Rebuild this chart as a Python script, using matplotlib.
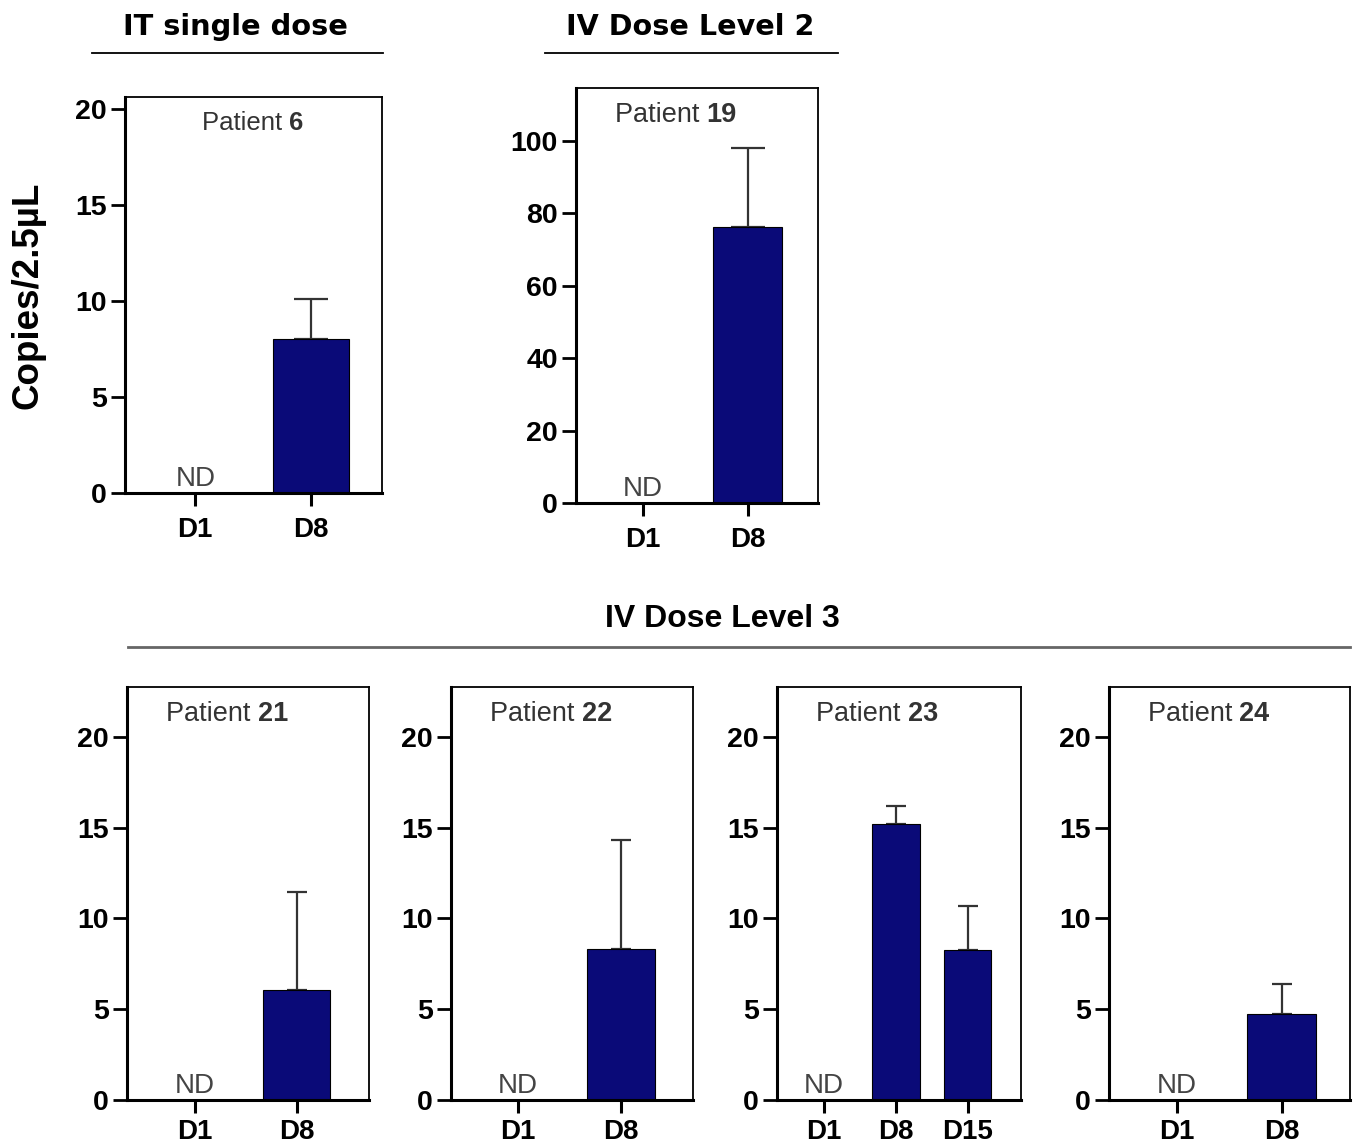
import numpy as np
import matplotlib
matplotlib.use('Agg')
import matplotlib.pyplot as plt
from matplotlib.lines import Line2D

plt.rcParams['font.family'] = ['Liberation Sans', 'DejaVu Sans']

# dados (ND = nao detectado -> nan)
days_2 = ['D1', 'D8']
days_3 = ['D1', 'D8', 'D15']

p6_mean = [np.nan, 8.0]
p6_err = [0, 2.1]
p19_mean = [np.nan, 76.2]
p19_err = [0, 21.9]
p21_mean = [np.nan, 6.05]
p21_err = [0, 5.4]
p22_mean = [np.nan, 8.3]
p22_err = [0, 6.0]
p23_mean = [np.nan, 15.2, 8.25]
p23_err = [0, 1.0, 2.45]
p24_mean = [np.nan, 4.75]
p24_err = [0, 1.65]

BAR = '#0a0a78'
W, H = 1358, 1144


def box(l, t, r, b):
    # pixels -> fracao da figura
    return [l / W, (H - b) / H, (r - l) / W, (b - t) / H]


def draw_panel(ax, days, mean, err, patient, ylim, yticks, xlim,
               capsize, pat_x, pat_size, xpad):
    x = np.arange(len(days))
    mean = np.array(mean, dtype=float)
    ax.bar(x, mean, width=0.66, color=BAR, edgecolor='black', linewidth=0.8,
           zorder=2)
    ax.errorbar(x, mean, yerr=[np.zeros(len(x)), err], fmt='none',
                ecolor='#333333', elinewidth=1.6, capsize=capsize,
                capthick=1.6, zorder=1)
    for xi, m in zip(x, mean):
        if np.isnan(m):
            ax.annotate('ND', (xi, 0), xytext=(0, 1), textcoords='offset points',
                        ha='center', va='bottom', fontsize=20, color='#444444')
    ax.set_xlim(*xlim)
    ax.set_ylim(*ylim)
    ax.set_yticks(yticks)
    ax.set_xticks(x)
    ax.set_xticklabels(days)
    for lab in ax.get_xticklabels() + ax.get_yticklabels():
        lab.set_fontweight('bold')
    ax.tick_params(axis='y', length=10, width=2, labelsize=20.5, pad=3)
    ax.tick_params(axis='x', length=9, width=2.2, labelsize=20, pad=xpad)
    ax.spines['left'].set_linewidth(2.2)
    ax.spines['bottom'].set_linewidth(2.2)
    ax.spines['top'].set_linewidth(1.3)
    ax.spines['right'].set_linewidth(1.3)
    t = ax.text(pat_x, 0.935, 'Patient ', transform=ax.transAxes,
                ha='left', va='center', fontsize=pat_size, color='#333333')
    ax.annotate(patient, xy=(1, 0), xycoords=t, va='bottom', ha='left',
                fontsize=pat_size, fontweight='bold', color='#333333')


fig = plt.figure(figsize=(W / 100, H / 100), dpi=100)

ax1 = fig.add_axes(box(125, 97, 382, 493))
draw_panel(ax1, days_2, p6_mean, p6_err, '6', (0, 20.6), [0, 5, 10, 15, 20],
           (-0.61, 1.62), 12, 0.30, 18.5, 8)
ax1.set_ylabel('Copies/2.5\u00b5L', fontsize=26.5, fontweight='bold')
ax1.yaxis.set_label_coords(-0.31, 0.5)

ax2 = fig.add_axes(box(576, 88, 818, 503))
draw_panel(ax2, days_2, p19_mean, p19_err, '19', (0, 114.6),
           [0, 20, 40, 60, 80, 100], (-0.64, 1.67), 12, 0.16, 19.5, 8)

bottom = [
    (127, 369, days_2, p21_mean, p21_err, '21', (-0.67, 1.71)),
    (451, 693, days_2, p22_mean, p22_err, '22', (-0.65, 1.70)),
    (777, 1021, days_3, p23_mean, p23_err, '23', (-0.65, 2.74)),
    (1109, 1350, days_2, p24_mean, p24_err, '24', (-0.65, 1.65)),
]
for l, r, d, m, e, p, xl in bottom:
    ax = fig.add_axes(box(l, 687, r, 1100))
    draw_panel(ax, d, m, e, p, (0, 22.75), [0, 5, 10, 15, 20], xl, 7.5,
               0.16, 19.5, 5)

# titulos dos grupos com linha
fig.text(235 / W, 1 - 27 / H, 'IT single dose', ha='center', va='center',
         fontsize=20.8, fontweight='bold', family='DejaVu Sans')
fig.add_artist(Line2D([92 / W, 383 / W], [1 - 53 / H] * 2, color='black',
                      linewidth=1.3))
fig.text(690 / W, 1 - 27 / H, 'IV Dose Level 2', ha='center', va='center',
         fontsize=20.6, fontweight='bold', family='DejaVu Sans')
fig.add_artist(Line2D([545 / W, 838 / W], [1 - 53 / H] * 2, color='black',
                      linewidth=1.3))
fig.text(722 / W, 1 - 619 / H, 'IV Dose Level 3', ha='center', va='center',
         fontsize=23, fontweight='bold')
fig.add_artist(Line2D([128 / W, 1350 / W], [1 - 647 / H] * 2, color='#666666',
                      linewidth=2))

fig.savefig('out.png', dpi=100)
